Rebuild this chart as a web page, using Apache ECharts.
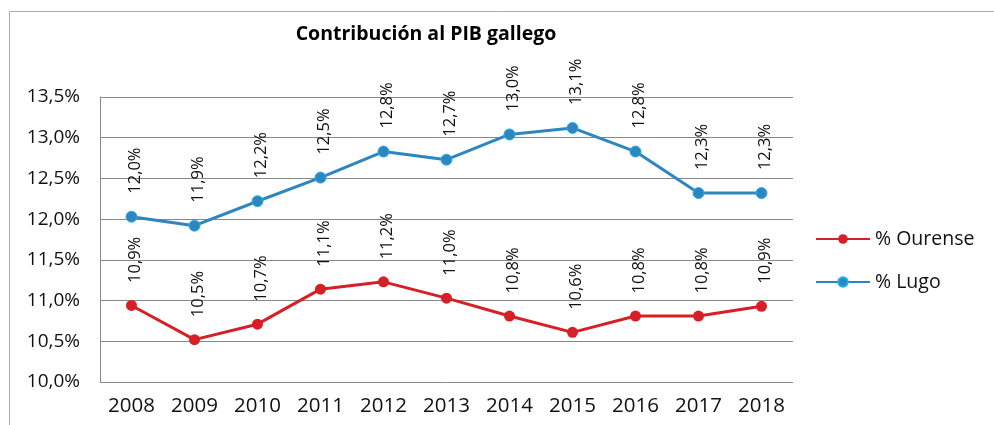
<!DOCTYPE html>
<html>
<head>
<meta charset="utf-8">
<script src="https://cdn.jsdelivr.net/npm/echarts@6/dist/echarts.min.js"></script>
<style>
  html, body { margin: 0; padding: 0; background: #fff; }
  #chart { width: 994px; height: 425px; }
</style>
</head>
<body>
<div id="chart"></div>
<script>
// datos
const years = ['2008', '2009', '2010', '2011', '2012', '2013', '2014', '2015', '2016', '2017', '2018'];
const ourense = [10.94, 10.52, 10.71, 11.14, 11.23, 11.03, 10.81, 10.61, 10.81, 10.81, 10.93];
const lugo = [12.03, 11.92, 12.22, 12.51, 12.83, 12.73, 13.04, 13.12, 12.83, 12.32, 12.32];
const yTicks = { min: 10, max: 13.5, step: 0.5 };

const font = '"Open Sans", "Noto Sans", sans-serif';
const pct = v => v.toFixed(1).replace('.', ',') + '%';

const chart = echarts.init(document.getElementById('chart'));

const label = {
    show: true,
    position: 'top',
    rotate: 90,
    align: 'left',
    verticalAlign: 'middle',
    distance: 12,
    offset: [5, 4],
    fontFamily: font,
    fontSize: 16.5,
    color: '#111',
    formatter: p => pct(p.value)
};

chart.setOption({
    animation: false,
    backgroundColor: '#fff',
    graphic: [{
        type: 'rect',
        shape: { x: 9.5, y: 11.5, width: 1100, height: 500 },
        style: { fill: 'none', stroke: '#aaa', lineWidth: 1 },
        silent: true
    }],
    title: {
        text: 'Contribución al PIB gallego',
        left: 421,
        top: 19,
        textAlign: 'center',
        textStyle: { fontFamily: font, fontSize: 19.5, fontWeight: 'bold', color: '#000' }
    },
    legend: {
        orient: 'vertical',
        left: 810,
        top: 224,
        itemGap: 23,
        itemWidth: 54,
        itemHeight: 12,
        textStyle: { fontFamily: font, fontSize: 19.5, color: '#111' },
        data: ['% Ourense', '% Lugo']
    },
    grid: { left: 100, top: 97, width: 693, height: 285 },
    xAxis: {
        type: 'category',
        data: years,
        boundaryGap: true,
        axisLine: { show: false },
        axisTick: { show: false },
        axisLabel: { fontFamily: font, fontSize: 20.5, color: '#111', margin: 14 }
    },
    yAxis: {
        type: 'value',
        min: yTicks.min,
        max: yTicks.max,
        interval: yTicks.step,
        axisLine: { show: true, lineStyle: { color: '#888' } },
        axisTick: { show: false },
        splitLine: { lineStyle: { color: '#888', width: 1 } },
        axisLabel: { fontFamily: font, fontSize: 19, color: '#111', margin: 20, formatter: v => pct(v) }
    },
    series: [
        {
            name: '% Ourense',
            type: 'line',
            data: ourense,
            symbol: 'circle',
            symbolSize: 11,
            lineStyle: { color: '#d61f26', width: 3 },
            itemStyle: { color: '#d61f26' },
            label
        },
        {
            name: '% Lugo',
            type: 'line',
            data: lugo,
            symbol: 'circle',
            symbolSize: 11,
            lineStyle: { color: '#2e86c1', width: 3 },
            itemStyle: { color: '#2e86c1', borderColor: '#22b0ea', borderWidth: 1 },
            label
        }
    ]
});
</script>
</body>
</html>
